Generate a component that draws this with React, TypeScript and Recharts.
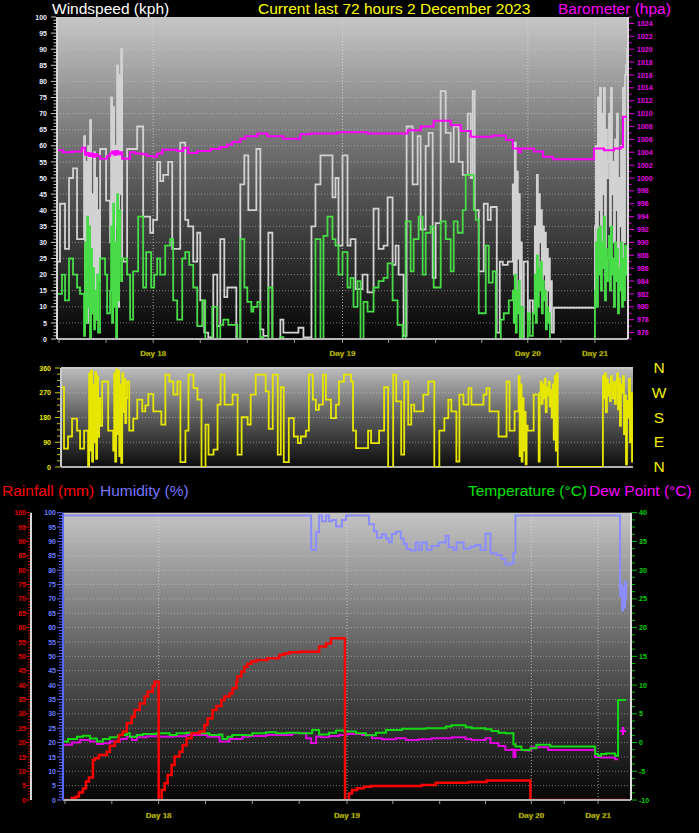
import React from 'react';
import { ComposedChart, Line, XAxis, YAxis, CartesianGrid, ReferenceLine, Scatter } from 'recharts';

// x = logger record index (0..570), shared by all three panels
const dayTicks = [96, 285, 470, 537];
const dayLabels = ['Day 18', 'Day 19', 'Day 20', 'Day 21'];
const minorXTicks = [2, 49, 143, 190, 237, 331, 378, 424, 503];

const windMajors = [0, 5, 10, 15, 20, 25, 30, 35, 40, 45, 50, 55, 60, 65, 70, 75, 80, 85, 90, 95, 100];
const baroMajors = [976, 978, 980, 982, 984, 986, 988, 990, 992, 994, 996, 998, 1000, 1002, 1004, 1006, 1008, 1010, 1012, 1014, 1016, 1018, 1020, 1022, 1024];
const dirMajors = [0, 90, 180, 270, 360];
const pctMajors = [0, 5, 10, 15, 20, 25, 30, 35, 40, 45, 50, 55, 60, 65, 70, 75, 80, 85, 90, 95, 100];
const tempMajors = [-10, -5, 0, 5, 10, 15, 20, 25, 30, 35, 40];
const compass = ['N', 'W', 'S', 'E', 'N'];

const gust: [number, number][] = [[0,24],[3,42],[8,28],[12,50],[16,53],[20,31],[27,63],[28,10],[29,55],[30,5],[31,60],[32,20],[33,68],[34,8],[35,45],[36,15],[37,58],[38,12],[39,50],[40,6],[41,40],[42,18],[43,59],[49,43],[53,30],[54,75],[55,20],[56,72],[57,15],[58,60],[59,35],[60,85],[61,10],[62,82],[63,45],[64,90],[65,25],[66,24],[70,59],[80,66],[86,38],[93,33],[96,37],[100,55],[103,49],[106,51],[111,55],[115,28],[123,61],[128,37],[131,35],[136,24],[140,33],[143,12],[147,2],[151,0.5],[156,20],[160,4],[163,31],[167,13],[170,16],[179,0],[183,48],[187,57],[191,40],[199,59],[203,3],[206,1],[211,33],[215,0],[223,6],[226,2],[241,3.5],[246,0.5],[254,35],[258,48],[263,57],[275,44],[278,50],[281,29],[285,57],[290,29],[293,31],[298,15.5],[305,20],[310,14.5],[316,40.5],[321,28],[326,29],[330,44],[335,23],[338,29],[341,20],[346,1],[349,66],[355,48],[360,63],[363,34],[368,60],[371,64],[375,19],[378,36],[383,77],[388,64],[393,55],[396,66],[401,55],[405,51],[410,70],[413,50],[415,77],[417,40],[421,21],[426,42],[430,37],[433,41],[439,2],[442,24],[445,23],[450,24],[455,48],[456,20],[457,61],[458,10],[459,52],[460,25],[461,45],[462,5],[463,30],[464,0],[466,24],[470,6],[472,12],[475,8],[477,35],[478,15],[479,51],[480,20],[481,45],[482,30],[483,40],[484,12],[485,35],[486,20],[487,33],[488,8],[489,28],[490,15],[491,25],[492,5],[493,18],[494,2],[496,9.7],[537,35],[538,60],[539,20],[540,75],[541,40],[542,78],[543,30],[544,70],[545,45],[546,78],[547,25],[548,65],[549,50],[550,55],[551,70],[552,35],[553,78],[554,45],[555,55],[556,30],[557,62],[558,40],[559,70],[560,20],[561,50],[562,35],[563,60],[564,25],[565,78],[566,30],[567,82],[568,85],[569,90],[570,72]];

const avg: [number, number][] = [[0,14],[5,20],[8,12],[12,25],[16,20],[20,16],[23,14],[27,1],[28,30],[29,5],[30,38],[31,10],[32,35],[33,0],[34,28],[35,8],[36,22],[37,3],[38,15],[39,6],[40,20],[41,2],[43,25],[48,20],[50,8],[53,15],[54,35],[55,5],[56,42],[57,10],[58,30],[59,0],[60,45],[61,12],[62,40],[63,25],[64,18],[65,25],[70,20],[73,6],[76,21],[81,38],[86,16],[89,27],[94,16],[97,20],[100,25],[103,20],[108,29],[113,31],[116,12],[120,6],[125,25],[128,27],[132,23],[136,16],[140,4],[145,12],[148,0],[155,10],[160,0],[163,4.4],[166,6],[171,4.4],[180,0],[183,31],[187,16],[190,11.5],[194,8.5],[196,10],[200,11.5],[203,0.6],[206,0],[211,16],[215,0],[223,0.6],[226,0],[258,31],[263,0],[266,32],[270,38],[275,31],[278,29],[281,20],[285,27],[290,16],[293,19],[296,10],[300,18],[303,0],[306,11.5],[310,8.5],[316,16],[321,18],[326,19],[330,23.5],[335,12],[340,4.4],[345,0],[348,36.5],[353,21],[356,31],[361,38],[365,20],[368,33],[373,35],[376,16],[383,36.5],[388,31],[393,21],[396,36.5],[400,33],[405,40],[408,51],[416,40],[418,37],[421,8],[428,29],[431,17.5],[435,21],[438,0],[443,6],[446,8],[451,12],[455,15],[456,5],[457,20],[458,2],[459,15],[460,8],[461,18],[462,0],[463,10],[465,0],[470,8],[472,1],[475,8],[477,20],[478,5],[479,26],[480,10],[481,22],[482,15],[483,24],[484,8],[485,18],[486,12],[487,15],[488,3],[489,10],[490,5],[491,8],[492,0],[537,15],[538,30],[539,10],[540,34],[541,20],[542,35],[543,15],[544,30],[545,22],[546,38],[547,12],[548,28],[549,18],[550,25],[551,32],[552,15],[553,35],[554,20],[555,25],[556,10],[557,30],[558,18],[559,28],[560,8],[561,22],[562,15],[563,30],[564,10],[565,25],[566,12],[567,29],[568,20],[569,28],[570,25]];

const baro: [number, number][] = [[0,1004.3],[6,1004.0],[15,1004.1],[25,1004.7],[28,1003.6],[30,1003.9],[32,1003.4],[34,1003.8],[36,1003.3],[38,1003.7],[40,1003.4],[43,1003.0],[50,1003.4],[53,1003.8],[55,1004.1],[57,1003.6],[59,1004.2],[61,1003.7],[63,1004.0],[65,1003.0],[73,1004.0],[78,1003.8],[85,1003.7],[90,1003.4],[96,1003.3],[100,1003.8],[105,1004.4],[120,1004.2],[126,1004.7],[131,1003.9],[140,1004.2],[153,1004.5],[163,1004.8],[170,1005.2],[175,1005.6],[183,1006.1],[188,1006.5],[200,1006.9],[210,1006.5],[226,1006.1],[243,1006.8],[253,1006.9],[280,1007.1],[310,1006.9],[350,1007.4],[363,1008.0],[376,1008.9],[393,1008.2],[403,1007.3],[413,1006.4],[435,1006.6],[448,1005.9],[455,1004.6],[461,1004.0],[463,1004.6],[476,1004.1],[485,1003.3],[495,1002.9],[536,1004.6],[546,1004.3],[556,1004.6],[563,1004.8],[565,1009.5],[570,1010]];

const dir: [number, number][] = [[0,290],[3,67],[7,111],[11,176],[16,132],[19,67],[23,132],[27,0],[28,340],[29,60],[30,350],[31,20],[32,300],[33,90],[34,345],[35,30],[36,330],[37,110],[38,250],[39,150],[41,311],[47,132],[52,60],[53,340],[54,20],[55,355],[56,120],[57,350],[58,40],[59,300],[60,15],[61,340],[62,200],[63,320],[64,160],[65,250],[66,311],[68,132],[72,176],[76,245],[81,202],[84,224],[87,265],[92,202],[100,154],[104,336],[108,311],[112,263],[116,311],[119,18],[124,132],[127,336],[132,287],[136,245],[140,0],[144,154],[147,45],[152,63],[156,227],[159,336],[163,227],[171,263],[176,45],[180,181],[186,154],[189,263],[194,336],[204,275],[207,139],[211,336],[216,45],[219,290],[222,18],[227,178],[232,111],[236,87],[239,111],[244,132],[247,336],[251,245],[254,208],[257,227],[261,336],[264,245],[269,178],[274,227],[277,311],[282,336],[289,311],[291,132],[294,69],[306,132],[309,87],[317,132],[322,290],[326,0],[331,336],[334,239],[339,45],[342,311],[346,154],[349,227],[352,202],[361,263],[366,311],[372,0],[377,132],[382,178],[386,245],[389,202],[394,20],[397,263],[401,227],[406,287],[409,227],[421,263],[424,287],[427,202],[436,111],[444,311],[447,132],[452,202],[456,330],[457,40],[458,300],[459,20],[460,250],[461,60],[462,200],[463,10],[464,150],[465,132],[471,263],[476,20],[477,270],[478,310],[479,230],[480,300],[481,250],[482,320],[483,200],[484,290],[485,260],[486,310],[487,220],[488,280],[489,180],[490,300],[491,100],[492,330],[493,60],[494,340],[495,0],[540,330],[541,250],[542,340],[543,200],[544,320],[545,260],[546,300],[547,240],[548,330],[549,280],[550,250],[551,310],[552,230],[553,300],[554,340],[555,210],[556,320],[557,150],[558,300],[559,270],[560,330],[561,120],[562,260],[563,10],[564,240],[565,180],[566,320],[567,90],[568,270],[569,20],[570,210]];

const hum: [number, number][] = [[0,99],[249,87],[254,93.2],[257,99],[260,97],[264,99],[267,97],[270,97.5],[274,95.2],[280,97.5],[284,99],[307,96],[312,93.5],[315,91.3],[320,92.5],[324,91],[327,89.7],[330,92.6],[334,93.4],[339,91],[342,89.2],[345,87.4],[349,86.8],[354,89.6],[357,87],[360,89.6],[365,87],[370,88.4],[377,89.6],[384,92],[387,88],[392,87],[395,89.6],[402,87.5],[409,88.2],[414,88.8],[419,87],[424,92.8],[429,85.9],[435,85.3],[440,83.9],[444,82],[449,82.4],[452,86],[454,99],[559,71],[560,75],[561,66],[562,74],[563,67],[564,76],[565,70]];

const rain: [number, number][] = [[0,0],[9,0.8],[13,1.2],[16,2.6],[20,4],[23,6.4],[26,7.8],[30,13.9],[32,14.5],[36,15.7],[44,16.8],[47,18.9],[52,20.3],[56,22.6],[60,23.8],[64,26.7],[69,29],[72,31.3],[77,33.6],[82,36],[85,37.7],[90,39.7],[92,41.2],[96,0],[99,3.5],[102,5.8],[105,8.7],[109,12.2],[112,15.1],[117,16.8],[120,19.1],[124,21.5],[129,23.2],[137,23.8],[142,26.1],[145,28.4],[150,31.3],[154,32.7],[159,34.8],[162,36],[167,37.1],[170,38.9],[174,41.2],[175,43],[179,44.7],[182,46.4],[185,47.4],[189,48.2],[194,48.7],[205,49.3],[217,50.5],[222,51],[227,51.4],[237,51.6],[257,53.4],[264,54.5],[269,56.3],[283,0],[287,2.3],[290,3.5],[295,4.1],[302,4.6],[309,4.9],[360,5.2],[374,6],[407,6.3],[425,6.8],[469,0],[565,0]];

const temp: [number, number][] = [[0,0.2],[5,0.6],[14,1.0],[20,1.2],[27,0.7],[34,0.2],[40,0.6],[47,0.9],[55,1.3],[64,1.6],[67,1.0],[74,1.3],[80,1.5],[94,1.6],[107,1.3],[114,1.6],[124,1.7],[137,1.6],[147,1.3],[157,1.4],[160,0.6],[165,1.0],[170,1.3],[184,1.26],[190,1.6],[204,1.8],[214,1.6],[224,1.7],[237,1.6],[250,2.2],[257,1.4],[267,1.7],[274,2.1],[282,1.9],[294,1.6],[304,1.25],[314,1.7],[324,2.2],[340,2.4],[364,2.5],[384,2.77],[390,3.0],[404,2.65],[410,2.5],[424,2.3],[430,2.0],[437,1.7],[444,1.6],[452,-0.3],[454,-0.7],[460,-1.3],[469,-1.0],[475,-0.4],[489,-0.7],[534,-2.0],[537,-2.3],[540,-2.0],[545,-1.9],[554,-2.3],[557,7.4],[565,7.4]];

const dew: [number, number][] = [[0,-0.4],[9,0],[17,0.45],[27,0.16],[34,-0.25],[40,-0.13],[47,0.16],[57,0.6],[64,1.0],[69,0.45],[74,0.9],[84,1.1],[97,1.0],[110,1.1],[124,1.3],[145,1.0],[157,0.16],[167,0.6],[180,1.0],[187,1.14],[204,1.3],[230,1.6],[244,0.74],[249,-0.1],[254,1.03],[259,0.9],[267,1.14],[277,1.3],[284,1.5],[300,1.3],[310,0.74],[320,0.56],[334,0.74],[344,0.45],[357,0.56],[370,0.74],[390,0.9],[404,0.6],[410,0.45],[424,0.74],[429,-0.1],[437,-0.6],[444,-1.3],[450,-1.2],[452,-2.5],[454,-1.3],[464,-1.4],[470,-0.8],[487,-1.3],[534,-2.5],[540,-2.6],[554,-2.9],[557,-2.9]];

const dewNow: [number, number][] = [[562, 2.0]];

const rows = (a: [number, number][]) => a.map(([r, v]) => ({ r, v }));

const FONT = '"Liberation Sans", Arial, Helvetica, sans-serif';

const steps = (lo: number, hi: number, step: number) => {
  const out: number[] = [];
  for (let v = lo; v <= hi + 1e-9; v += step) out.push(Math.round(v * 1000) / 1000);
  return out;
};

type TickCfg = { side: 'left' | 'right'; color: string; tickColor: string; majors: number[]; major: number; minor: number; gap: number };

const yTick = (cfg: TickCfg) => (p: any) => {
  const v = p.payload.value;
  const isMajor = cfg.majors.some((m) => Math.abs(m - v) < 1e-6);
  const d = cfg.side === 'left' ? -1 : 1;
  const len = isMajor ? cfg.major : cfg.minor;
  return (
    <g>
      <line x1={p.x + d} x2={p.x + d * (1 + len)} y1={p.y} y2={p.y} stroke={cfg.tickColor} strokeWidth={1} />
      {isMajor && (
        <text x={p.x + d * cfg.gap} y={p.y} dy={2.6} textAnchor={cfg.side === 'left' ? 'end' : 'start'} fill={cfg.color} fontSize={7} fontWeight="bold" fontFamily={FONT}>
          {v}
        </text>
      )}
    </g>
  );
};

const xTick = (labelDy: number) => (p: any) => {
  const v = p.payload.value;
  const i = dayTicks.indexOf(v);
  return (
    <g>
      <line x1={p.x} x2={p.x} y1={p.y + 1} y2={p.y + 4} stroke="#9a9a9a" />
      {i >= 0 && (
        <text x={p.x} y={p.y + labelDy} textAnchor="middle" fill="#eeee00" stroke="#5a5a00" strokeWidth={0.3} fontSize={8} fontWeight="bold" fontFamily={FONT}>
          {dayLabels[i]}
        </text>
      )}
    </g>
  );
};

const plusShape = (p: any) => (
  <g>
    <line x1={p.cx - 3} x2={p.cx + 3} y1={p.cy} y2={p.cy} stroke="#ff00ff" strokeWidth={2} />
    <line x1={p.cx} x2={p.cx} y1={p.cy - 4} y2={p.cy + 4} stroke="#ff00ff" strokeWidth={2} />
  </g>
);

const allX = [...minorXTicks, ...dayTicks].sort((a, b) => a - b);
const gridStyle = { stroke: '#d8d8d8', strokeOpacity: 0.5, strokeDasharray: '1 2' };

function Grad({ id, top, bottom }: { id: string; top: string; bottom: string }) {
  return (
    <defs>
      <linearGradient id={id} x1="0" y1="0" x2="0" y2="1">
        <stop offset="0%" stopColor={top} />
        <stop offset="50%" stopColor="#5c5c5c" />
        <stop offset="100%" stopColor={bottom} />
      </linearGradient>
    </defs>
  );
}

function TopChart() {
  return (
    <ComposedChart width={699} height={362} margin={{ top: 17, right: 0, bottom: 0, left: 0 }}>
      <Grad id="gTop" top="#c6c6c6" bottom="#050505" />
      <CartesianGrid xAxisId="x" yAxisId="w" horizontal={false} vertical={false} fill="url(#gTop)" fillOpacity={1} stroke="none" />
      <XAxis xAxisId="x" dataKey="r" type="number" domain={[0, 570]} ticks={allX} interval={0} height={23} tickSize={0} tickMargin={0} tickLine={false} axisLine={{ stroke: '#b8b8b8', strokeWidth: 2 }} tick={xTick(17)} allowDataOverflow />
      <YAxis yAxisId="w" orientation="left" width={57} domain={[0, 100]} ticks={steps(0, 100, 1)} interval={0} tickSize={0} tickMargin={0} tickLine={false} axisLine={{ stroke: '#d8d8d8', strokeWidth: 2 }} tick={yTick({ side: 'left', color: '#e8ecff', tickColor: '#c8c8c8', majors: windMajors, major: 5, minor: 2.5, gap: 10 })} allowDataOverflow />
      <YAxis yAxisId="b" orientation="right" width={71} domain={[975, 1025]} ticks={steps(975, 1025, 1)} interval={0} tickSize={0} tickMargin={0} tickLine={false} axisLine={{ stroke: '#d8d8d8', strokeWidth: 2 }} tick={yTick({ side: 'right', color: '#e800e8', tickColor: '#e000e0', majors: baroMajors, major: 5, minor: 2.5, gap: 9 })} allowDataOverflow />
      {windMajors.slice(1, -1).map((v) => (
        <ReferenceLine key={'h' + v} xAxisId="x" yAxisId="w" y={v} {...gridStyle} />
      ))}
      {dayTicks.map((d) => (
        <ReferenceLine key={'d' + d} xAxisId="x" yAxisId="w" x={d} stroke="#e0e0e0" strokeOpacity={0.7} strokeDasharray="1 2" />
      ))}
      <Line xAxisId="x" yAxisId="w" data={rows(gust)} dataKey="v" type="stepAfter" stroke="#d2d2d2" strokeWidth={1.8} dot={false} activeDot={false} isAnimationActive={false} />
      <Line xAxisId="x" yAxisId="w" data={rows(avg)} dataKey="v" type="stepAfter" stroke="#48dc48" strokeWidth={1.8} dot={false} activeDot={false} isAnimationActive={false} />
      <Line xAxisId="x" yAxisId="b" data={rows(baro)} dataKey="v" type="stepAfter" stroke="#ff00ff" strokeWidth={2} dot={false} activeDot={false} isAnimationActive={false} />
    </ComposedChart>
  );
}

function MidChart() {
  return (
    <ComposedChart width={699} height={112} margin={{ top: 8, right: 66, bottom: 5, left: 0 }}>
      <Grad id="gMid" top="#bcbcbc" bottom="#0c0c0c" />
      <CartesianGrid xAxisId="x" yAxisId="d" horizontal={false} vertical={false} fill="url(#gMid)" fillOpacity={1} stroke="none" />
      <XAxis xAxisId="x" dataKey="r" type="number" domain={[0, 570]} hide allowDataOverflow />
      <YAxis yAxisId="d" orientation="left" width={61} domain={[0, 360]} ticks={steps(0, 360, 22.5)} interval={0} tickSize={0} tickMargin={0} tickLine={false} axisLine={{ stroke: '#c8c8c8', strokeWidth: 2 }} tick={yTick({ side: 'left', color: '#e8e800', tickColor: '#c8c800', majors: dirMajors, major: 5, minor: 3, gap: 10 })} allowDataOverflow />
      {[90, 180, 270].map((v) => (
        <ReferenceLine key={'h' + v} xAxisId="x" yAxisId="d" y={v} {...gridStyle} />
      ))}
      <ReferenceLine xAxisId="x" yAxisId="d" y={360} stroke="#c8c8c8" strokeWidth={2} />
      <ReferenceLine xAxisId="x" yAxisId="d" y={0} stroke="#b0b0b0" strokeWidth={2} />
      <Line xAxisId="x" yAxisId="d" data={rows(dir)} dataKey="v" type="stepAfter" stroke="#e6e600" strokeWidth={1.8} dot={false} activeDot={false} isAnimationActive={false} />
    </ComposedChart>
  );
}

function BottomChart() {
  return (
    <ComposedChart width={699} height={330} margin={{ top: 12.7, right: 0, bottom: 0, left: 0 }}>
      <Grad id="gBot" top="#c4c4c4" bottom="#060606" />
      <CartesianGrid xAxisId="x" yAxisId="rn" horizontal={false} vertical={false} fill="url(#gBot)" fillOpacity={1} stroke="none" />
      <XAxis xAxisId="x" dataKey="r" type="number" domain={[0, 570]} ticks={allX} interval={0} height={30} tickSize={0} tickMargin={0} tickLine={false} axisLine={{ stroke: '#b0b0b0', strokeWidth: 2 }} tick={xTick(18)} allowDataOverflow />
      <YAxis yAxisId="rn" orientation="left" width={31} domain={[0, 100]} ticks={steps(0, 100, 1)} interval={0} tickSize={0} tickMargin={0} tickLine={false} axisLine={{ stroke: '#d8d8d8', strokeWidth: 2 }} tick={yTick({ side: 'left', color: '#e00000', tickColor: '#c00000', majors: pctMajors, major: 4, minor: 2, gap: 5 })} allowDataOverflow />
      <YAxis yAxisId="hm" orientation="left" width={32} domain={[0, 100]} ticks={steps(0, 100, 1)} interval={0} tickSize={0} tickMargin={0} tickLine={false} axisLine={{ stroke: '#5868ff', strokeWidth: 2 }} tick={yTick({ side: 'left', color: '#6a7cff', tickColor: '#5868ff', majors: pctMajors, major: 5, minor: 3, gap: 7 })} allowDataOverflow />
      <YAxis yAxisId="t" orientation="right" width={68} domain={[-10, 40]} ticks={steps(-10, 40, 1.25)} interval={0} tickSize={0} tickMargin={0} tickLine={false} axisLine={{ stroke: '#e0e0e0', strokeWidth: 2 }} tick={yTick({ side: 'right', color: '#00d400', tickColor: '#00c000', majors: tempMajors, major: 5, minor: 3, gap: 8 })} allowDataOverflow />
      {pctMajors.slice(1, -1).map((v) => (
        <ReferenceLine key={'h' + v} xAxisId="x" yAxisId="rn" y={v} {...gridStyle} />
      ))}
      {dayTicks.map((d) => (
        <ReferenceLine key={'d' + d} xAxisId="x" yAxisId="rn" x={d} stroke="#e0e0e0" strokeOpacity={0.7} strokeDasharray="1 2" />
      ))}
      <Line xAxisId="x" yAxisId="hm" data={rows(hum)} dataKey="v" type="stepAfter" stroke="#8a8cff" strokeWidth={2} dot={false} activeDot={false} isAnimationActive={false} />
      <Line xAxisId="x" yAxisId="t" data={rows(dew)} dataKey="v" type="stepAfter" stroke="#e000e0" strokeWidth={2} dot={false} activeDot={false} isAnimationActive={false} />
      <Line xAxisId="x" yAxisId="t" data={rows(temp)} dataKey="v" type="stepAfter" stroke="#14d814" strokeWidth={2} dot={false} activeDot={false} isAnimationActive={false} />
      <Line xAxisId="x" yAxisId="rn" data={rows(rain)} dataKey="v" type="stepAfter" stroke="#ff0000" strokeWidth={2.5} dot={false} activeDot={false} isAnimationActive={false} />
      <Scatter xAxisId="x" yAxisId="t" data={rows(dewNow)} dataKey="v" fill="#ff00ff" shape={plusShape} isAnimationActive={false} />
    </ComposedChart>
  );
}

export default function App() {
  const title = { fontFamily: FONT, fontSize: 15.5 } as const;
  return (
    <div style={{ position: 'absolute', left: 0, top: 0, width: 699, height: 833, background: '#000', overflow: 'hidden' }}>
      <div style={{ position: 'absolute', left: 0, top: 0 }}><TopChart /></div>
      <div style={{ position: 'absolute', left: 0, top: 360 }}><MidChart /></div>
      <div style={{ position: 'absolute', left: 0, top: 500 }}><BottomChart /></div>
      <svg width={699} height={833} style={{ position: 'absolute', left: 0, top: 0, pointerEvents: 'none' }}>
        <text x={52} y={14} fill="#ffffff" {...title}>Windspeed (kph)</text>
        <text x={258} y={14} fill="#ffff00" {...title}>Current last 72 hours 2 December 2023</text>
        <text x={558} y={14} fill="#ff00ff" {...title}>Barometer (hpa)</text>
        {compass.map((c, i) => (
          <text key={i} x={659} y={373.3 + i * 24.6} textAnchor="middle" fill="#f0f000" {...title}>{c}</text>
        ))}
        <text x={2} y={496} fill="#ff0000" {...title}>Rainfall (mm)</text>
        <text x={100} y={496} fill="#7474ff" {...title}>Humidity (%)</text>
        <text x={468} y={496} fill="#00e000" {...title}>Temperature (°C)</text>
        <text x={589} y={496} fill="#ff00ff" {...title}>Dew Point (°C)</text>
      </svg>
    </div>
  );
}
